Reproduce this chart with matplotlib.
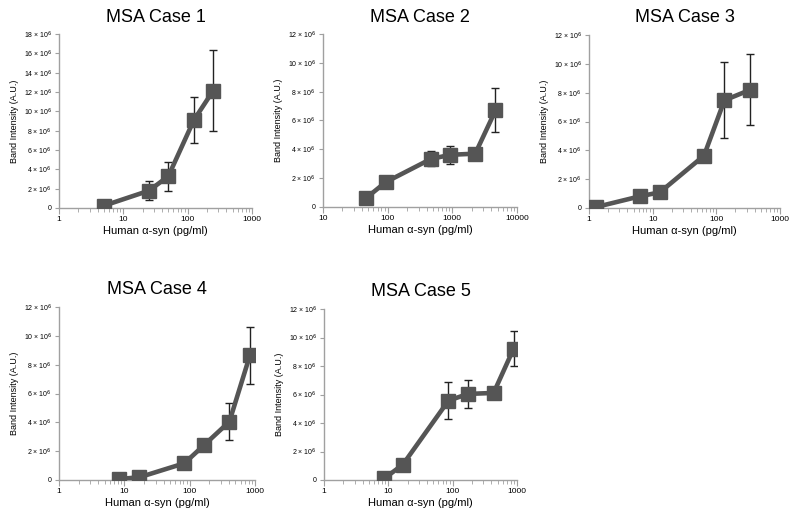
import matplotlib
matplotlib.use("Agg")
import matplotlib.pyplot as plt
from matplotlib.ticker import FixedLocator, FuncFormatter, LogLocator, NullFormatter

plt.rcParams["font.family"] = ["Liberation Sans", "DejaVu Sans"]

# concentrations (pg/ml), band intensities and error bars (x 10^6 A.U.)
case1_x = [5, 25, 50, 125, 250]
case1_y = [0.24, 1.79, 3.28, 9.1, 12.15]
case1_err = [0.0, 0.97, 1.5, 2.37, 4.23]

case2_x = [47, 93, 465, 930, 2260, 4650]
case2_y = [0.64, 1.72, 3.33, 3.62, 3.70, 6.70]
case2_err = [0.0, 0.15, 0.52, 0.63, 0.0, 1.52]

case3_x = [1.3, 6.3, 13, 64, 134, 337]
case3_y = [0.07, 0.81, 1.09, 3.63, 7.47, 8.19]
case3_err = [0.0, 0.0, 0.0, 0.0, 2.63, 2.46]

case4_x = [8.4, 17, 83, 167, 406, 835]
case4_y = [0.07, 0.19, 1.16, 2.43, 4.05, 8.64]
case4_err = [0.0, 0.0, 0.0, 0.0, 1.28, 2.0]

case5_x = [8.7, 16.8, 86, 173, 433, 887]
case5_y = [0.12, 1.08, 5.57, 6.04, 6.11, 9.22]
case5_err = [0.0, 0.0, 1.31, 0.96, 0.0, 1.23]

titles = ["MSA Case 1", "MSA Case 2", "MSA Case 3", "MSA Case 4", "MSA Case 5"]
xlims = [(1, 1000), (10, 10000), (1, 1000), (1, 1000), (1, 1000)]
ymaxs = [18, 12, 12, 12, 12]

# axes boxes in pixels: left, right, top, bottom
boxes = [
    (59, 252, 34, 208),
    (323, 517, 34, 207),
    (589, 780, 35, 208),
    (59, 255, 307, 480),
    (324, 517, 309, 480),
]

W, H = 800, 520
fig = plt.figure(figsize=(W / 100, H / 100), dpi=100)

data = [
    (case1_x, case1_y, case1_err),
    (case2_x, case2_y, case2_err),
    (case3_x, case3_y, case3_err),
    (case4_x, case4_y, case4_err),
    (case5_x, case5_y, case5_err),
]


def ytick_fmt(v, pos):
    if v == 0:
        return "0"
    return f"{int(round(v))} × 10$^{{6}}$"


axis_grey = "#a0a0a0"
for (x, y, err), title, xl, ym, (l, r, t, b) in zip(data, titles, xlims, ymaxs, boxes):
    ax = fig.add_axes([l / W, 1 - b / H, (r - l) / W, (b - t) / H])
    ax.errorbar(x, y, yerr=err, fmt="none", ecolor="#222222", elinewidth=1,
                capsize=3.2, capthick=1, zorder=2)
    ax.plot(x, y, color="#555555", lw=3.3, marker="s", ms=9.5, zorder=3)
    ax.set_xscale("log")
    ax.set_xlim(*xl)
    ax.set_ylim(0, ym)
    ax.yaxis.set_major_locator(FixedLocator(list(range(0, ym + 1, 2))))
    ax.yaxis.set_major_formatter(FuncFormatter(ytick_fmt))
    ax.xaxis.set_major_locator(LogLocator(base=10))
    ax.xaxis.set_minor_locator(LogLocator(base=10, subs=range(2, 10)))
    ax.xaxis.set_minor_formatter(NullFormatter())
    ax.xaxis.set_major_formatter(FuncFormatter(lambda v, p: f"{v:g}"))
    for s in ["top", "right"]:
        ax.spines[s].set_visible(False)
    for s in ["left", "bottom"]:
        ax.spines[s].set_color(axis_grey)
        ax.spines[s].set_linewidth(1)
    ax.tick_params(axis="both", which="both", direction="out", color=axis_grey)
    ax.tick_params(axis="x", which="major", length=4, labelsize=6, pad=2)
    ax.tick_params(axis="x", which="minor", length=3)
    ax.tick_params(axis="y", length=3, labelsize=5, pad=2)
    ax.set_xlabel("Human α-syn (pg/ml)", fontsize=8, labelpad=2)
    ax.set_ylabel("Band Intensity (A.U.)", fontsize=6.5, labelpad=3)
    ax.set_title(title, fontsize=13, pad=9)
    ax.patch.set_alpha(0)

fig.savefig("out.png", dpi=100)
